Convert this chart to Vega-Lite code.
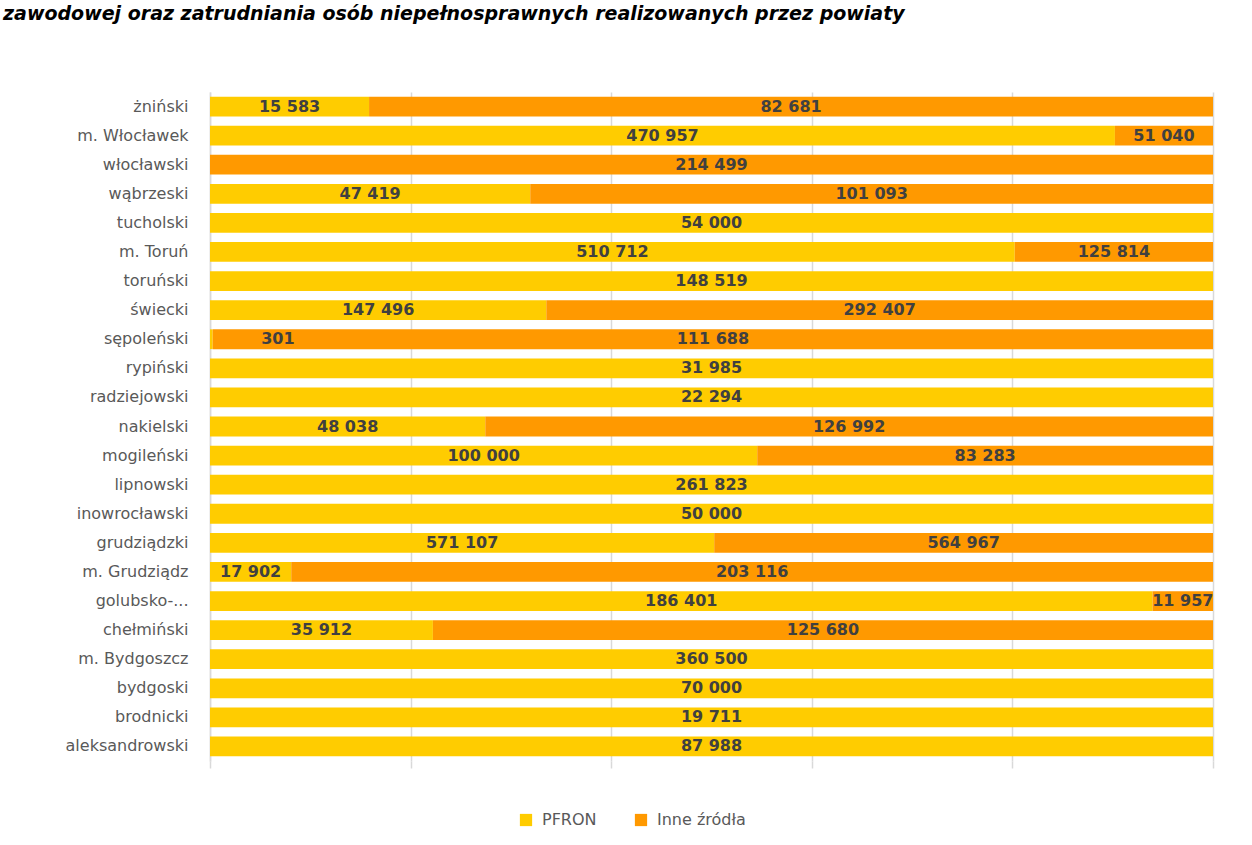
{
  "$schema": "https://vega.github.io/schema/vega-lite/v6.json",
  "autosize": "none",
  "width": 1003,
  "height": 669,
  "padding": {"left": 210, "top": 92, "right": 39, "bottom": 84},
  "background": "white",
  "config": {
    "locale": {"number": {"decimal": ",", "thousands": " ", "grouping": [3], "currency": ["", " zł"]}},
    "view": {"stroke": null},
    "font": "DejaVu Sans"
  },
  "title": {
    "text": "zawodowej oraz zatrudniania osób niepełnosprawnych realizowanych przez powiaty",
    "anchor": "start",
    "frame": "group",
    "orient": "top",
    "dx": -207,
    "offset": 68,
    "font": "DejaVu Sans",
    "fontSize": 19,
    "fontWeight": "bold",
    "fontStyle": "italic",
    "color": "#000000"
  },
  "data": {
    "values": [
      {"powiat": "żniński", "series": "PFRON", "value": 15583},
      {"powiat": "żniński", "series": "Inne źródła", "value": 82681},
      {"powiat": "m. Włocławek", "series": "PFRON", "value": 470957},
      {"powiat": "m. Włocławek", "series": "Inne źródła", "value": 51040},
      {"powiat": "włocławski", "series": "Inne źródła", "value": 214499},
      {"powiat": "wąbrzeski", "series": "PFRON", "value": 47419},
      {"powiat": "wąbrzeski", "series": "Inne źródła", "value": 101093},
      {"powiat": "tucholski", "series": "PFRON", "value": 54000},
      {"powiat": "m. Toruń", "series": "PFRON", "value": 510712},
      {"powiat": "m. Toruń", "series": "Inne źródła", "value": 125814},
      {"powiat": "toruński", "series": "PFRON", "value": 148519},
      {"powiat": "świecki", "series": "PFRON", "value": 147496},
      {"powiat": "świecki", "series": "Inne źródła", "value": 292407},
      {"powiat": "sępoleński", "series": "PFRON", "value": 301},
      {"powiat": "sępoleński", "series": "Inne źródła", "value": 111688},
      {"powiat": "rypiński", "series": "PFRON", "value": 31985},
      {"powiat": "radziejowski", "series": "PFRON", "value": 22294},
      {"powiat": "nakielski", "series": "PFRON", "value": 48038},
      {"powiat": "nakielski", "series": "Inne źródła", "value": 126992},
      {"powiat": "mogileński", "series": "PFRON", "value": 100000},
      {"powiat": "mogileński", "series": "Inne źródła", "value": 83283},
      {"powiat": "lipnowski", "series": "PFRON", "value": 261823},
      {"powiat": "inowrocławski", "series": "PFRON", "value": 50000},
      {"powiat": "grudziądzki", "series": "PFRON", "value": 571107},
      {"powiat": "grudziądzki", "series": "Inne źródła", "value": 564967},
      {"powiat": "m. Grudziądz", "series": "PFRON", "value": 17902},
      {"powiat": "m. Grudziądz", "series": "Inne źródła", "value": 203116},
      {"powiat": "golubsko-...", "series": "PFRON", "value": 186401},
      {"powiat": "golubsko-...", "series": "Inne źródła", "value": 11957},
      {"powiat": "chełmiński", "series": "PFRON", "value": 35912},
      {"powiat": "chełmiński", "series": "Inne źródła", "value": 125680},
      {"powiat": "m. Bydgoszcz", "series": "PFRON", "value": 360500},
      {"powiat": "bydgoski", "series": "PFRON", "value": 70000},
      {"powiat": "brodnicki", "series": "PFRON", "value": 19711},
      {"powiat": "aleksandrowski", "series": "PFRON", "value": 87988}
    ]
  },
  "transform": [
    {"calculate": "datum.series === 'PFRON' ? 0 : 1", "as": "ord"},
    {"stack": "value", "groupby": ["powiat"], "sort": [{"field": "ord", "order": "ascending"}], "offset": "normalize", "as": ["x0", "x1"]},
    {"calculate": "(datum.x1 - datum.x0) < 0.01 ? datum.x1 + 0.065 : (datum.x0 + datum.x1) / 2", "as": "mid"}
  ],
  "encoding": {
    "y": {
      "field": "powiat",
      "type": "nominal",
      "sort": null,
      "scale": {"paddingInner": 0.32, "paddingOuter": 0.16},
      "axis": {
        "title": null,
        "ticks": false,
        "labelPadding": 22,
        "labelFontSize": 16,
        "labelColor": "#595959",
        "labelFont": "DejaVu Sans",
        "domainColor": "#d9d9d9",
        "domainWidth": 1.5,
        "labelLimit": 220
      }
    }
  },
  "layer": [
    {
      "mark": {"type": "bar"},
      "encoding": {
        "x": {
          "field": "x0",
          "type": "quantitative",
          "scale": {"domain": [0, 1], "nice": false},
          "axis": {
            "title": null,
            "labels": false,
            "values": [0, 0.2, 0.4, 0.6, 0.8, 1],
            "grid": true,
            "gridColor": "#d9d9d9",
            "gridWidth": 1.5,
            "domain": false,
            "ticks": true,
            "tickColor": "#d9d9d9",
            "tickSize": 7,
            "tickWidth": 1.5
          }
        },
        "x2": {"field": "x1"},
        "color": {
          "field": "series",
          "type": "nominal",
          "scale": {"domain": ["PFRON", "Inne źródła"], "range": ["#FFCC00", "#FF9900"]},
          "legend": {
            "title": null,
            "orient": "none",
            "direction": "horizontal",
            "legendX": 308,
            "legendY": 720,
            "symbolType": "square",
            "symbolSize": 150,
            "symbolStrokeWidth": 0,
            "labelFontSize": 16,
            "labelColor": "#595959",
            "labelFont": "DejaVu Sans",
            "columnPadding": 36,
            "labelOffset": 8
          }
        }
      }
    },
    {
      "mark": {"type": "text", "fontSize": 16, "fontWeight": "bold", "color": "#404040", "baseline": "middle", "font": "DejaVu Sans"},
      "encoding": {
        "x": {
          "field": "mid",
          "type": "quantitative",
          "axis": {
            "title": null,
            "labels": false,
            "values": [0, 0.2, 0.4, 0.6, 0.8, 1],
            "grid": true,
            "gridColor": "#d9d9d9",
            "gridWidth": 1.5,
            "domain": false,
            "ticks": true,
            "tickColor": "#d9d9d9",
            "tickSize": 7,
            "tickWidth": 1.5
          }
        },
        "text": {"field": "value", "type": "quantitative", "format": ",d"}
      }
    }
  ]
}
